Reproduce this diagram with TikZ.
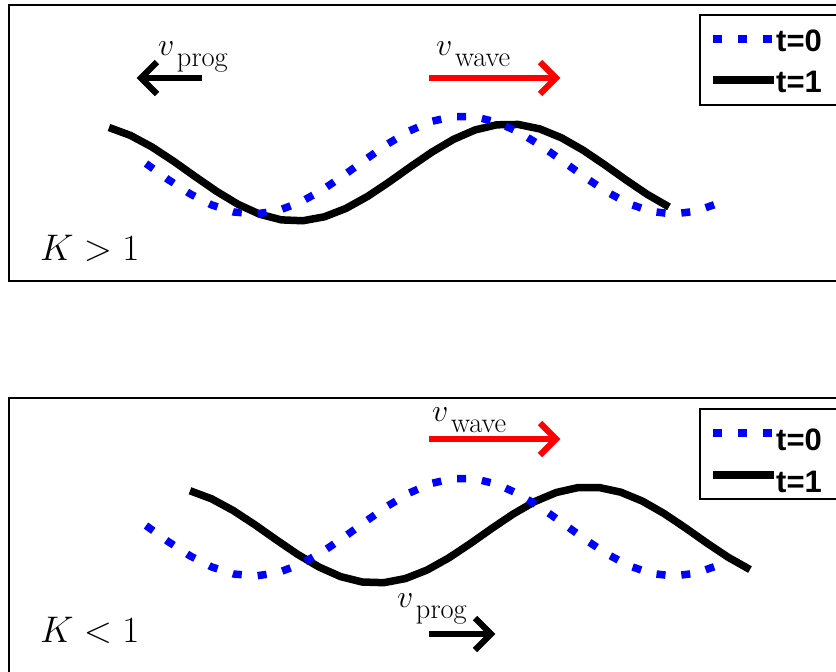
\RequirePackage{fix-cm}
\documentclass[tikz,border=0pt]{standalone}
\usepackage{fontspec}
\newfontfamily\legfont{Liberation Sans}
% velocity label: italic v with an upright, nearly full-size subscript
\newcommand\velolabel[1]{{\fontsize{32}{32}\selectfont$v$}\kern2.5pt\raisebox{-11pt}{\fontsize{28.5}{28.5}\selectfont #1}}
\begin{document}
\begin{tikzpicture}[x=1pt,y=-1pt,
  frame/.style={draw=black,line width=1.2pt},
  legframe/.style={draw=black,line width=1.6pt,fill=white},
  wavezero/.style={draw=blue,line width=7.5pt,dash pattern=on 9pt off 16pt},
  waveone/.style={draw=black,line width=7.5pt,line join=round},
  velarrow/.style={line width=6.3pt,line join=miter},
  mathlbl/.style={inner sep=0pt,anchor=base west},
  caselbl/.style={inner sep=0pt,anchor=base west,font=\fontsize{37}{37}\selectfont},
  leglbl/.style={inner sep=0pt,anchor=base west,font=\legfont\bfseries\fontsize{31}{31}\selectfont},
]
\useasboundingbox (0,0) rectangle (836,672);
\begin{scope}
\clip (0,0) rectangle (836,672);

% ---------------- upper panel: K > 1 ----------------
\draw[frame] (9,5) rectangle (850,281);
\draw[waveone] plot[domain=109:669,samples=27] (\x,{172.5-48.5*cos((\x-509)/426*360)});
\draw[wavezero] plot[domain=146:717,samples=27] (\x,{165-49*cos((\x-463)/420*360)});

% progression velocity (to the left)
\coordinate (pa1s) at (202,78);
\coordinate (pa1t) at (141,78);
\draw[velarrow,black] (pa1s) -- (pa1t);
\draw[velarrow,black] ([shift={(16,-16)}]pa1t) -- (pa1t) -- ++(16,16);
\node[mathlbl] (vp1) at (158,55) {\velolabel{prog}};

% wave velocity (to the right)
\coordinate (wa1s) at (429,78);
\coordinate (wa1t) at (556,78);
\draw[velarrow,red] (wa1s) -- (wa1t);
\draw[velarrow,red] ([shift={(-16,-16)}]wa1t) -- (wa1t) -- ++(-16,16);
\node[mathlbl] (vw1) at (436,55) {\velolabel{wave}};

\node[caselbl] (k1) at (40,260) {$K>1$};

% legend
\draw[legframe] (700,15) rectangle (850,105);
\draw[wavezero] (713,39) -- (774,39);
\draw[waveone] (713,80) -- (774,80);
\node[leglbl] (l1a) at (776,51) {t=0};
\node[leglbl] (l1b) at (776,92) {t=1};

% ---------------- lower panel: K < 1 ----------------
\draw[frame] (9,398) rectangle (850,690);
\draw[waveone] plot[domain=190:750,samples=27] (\x,{535-48*cos((\x-589)/426*360)});
\draw[wavezero] plot[domain=146:717,samples=27] (\x,{527-49*cos((\x-463)/420*360)});

% wave velocity (to the right)
\coordinate (wa2s) at (429,439);
\coordinate (wa2t) at (556,439);
\draw[velarrow,red] (wa2s) -- (wa2t);
\draw[velarrow,red] ([shift={(-16,-16)}]wa2t) -- (wa2t) -- ++(-16,16);
\node[mathlbl] (vw2) at (432,421) {\velolabel{wave}};

% progression velocity (to the right)
\coordinate (pa2s) at (429,634);
\coordinate (pa2t) at (491,634);
\draw[velarrow,black] (pa2s) -- (pa2t);
\draw[velarrow,black] ([shift={(-16,-16)}]pa2t) -- (pa2t) -- ++(-16,16);
\node[mathlbl] (vp2) at (397,607) {\velolabel{prog}};

\node[caselbl] (k2) at (40,642) {$K<1$};

% legend
\draw[legframe] (700,409) rectangle (850,499);
\draw[wavezero] (713,433) -- (774,433);
\draw[waveone] (713,475) -- (774,475);
\node[leglbl] (l2a) at (776,450) {t=0};
\node[leglbl] (l2b) at (776,492) {t=1};
\end{scope}
\end{tikzpicture}
\end{document}
